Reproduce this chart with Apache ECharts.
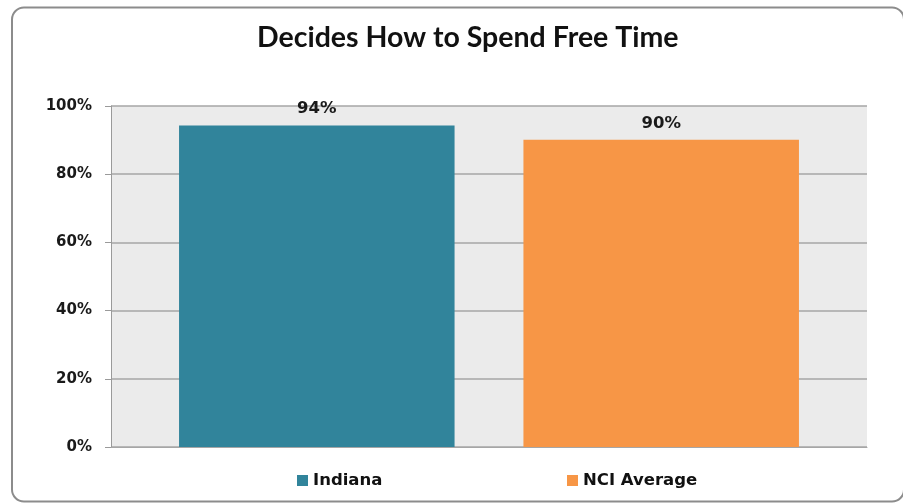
<!DOCTYPE html>
<html>
<head>
<meta charset="utf-8">
<script src="https://cdn.jsdelivr.net/npm/echarts@6/dist/echarts.min.js"></script>
<style>html,body{margin:0;padding:0;background:#fff;}#c{width:903px;height:504px;}</style>
</head>
<body>
<div id="c"></div>
<script>
const title = 'Decides How to Spend Free Time';
const categories = [''];
const seriesNames = ['Indiana', 'NCI Average'];
const indianaValues = [94.3];
const nciValues = [90.1];
const valueLabels = ['94%', '90%'];
const yTicks = [0, 20, 40, 60, 80, 100];

const chart = echarts.init(document.getElementById('c'), null, {renderer: 'canvas'});
const labelFont = {fontFamily: 'DejaVu Sans', fontWeight: 'bold', fontSize: 16.5, color: '#1a1a1a'};
const legendText = {fontFamily: 'DejaVu Sans', fontWeight: 'bold', fontSize: 16.5, color: '#111'};
chart.setOption({
  animation: false,
  backgroundColor: '#fff',
  title: {
    text: title, left: 252, top: 18,
    textStyle: {fontFamily: 'Lato', fontWeight: 'bold', fontSize: 28.5, color: '#111'}
  },
  graphic: [{
    type: 'rect', z: -10,
    shape: {x: 12, y: 7.5, width: 892, height: 494, r: 12},
    style: {fill: 'none', stroke: '#8c8c8c', lineWidth: 2}
  }],
  legend: [
    {data: [seriesNames[0]], left: 292, top: 467, itemWidth: 11, itemHeight: 11, icon: 'rect', textStyle: legendText},
    {data: [seriesNames[1]], left: 562, top: 467, itemWidth: 11, itemHeight: 11, icon: 'rect', textStyle: legendText}
  ],
  grid: {left: 111, right: 36, top: 106, bottom: 57, show: true, backgroundColor: '#ebebeb', borderWidth: 0},
  xAxis: {
    type: 'category', data: categories,
    axisLine: {show: true, lineStyle: {color: '#a6a6a6'}},
    axisTick: {show: false}, axisLabel: {show: false}
  },
  yAxis: {
    type: 'value', min: 0, max: 100, interval: 20,
    axisLine: {show: true, lineStyle: {color: '#9a9a9a', width: 1}},
    axisTick: {show: true, inside: false, length: 6, lineStyle: {color: '#9a9a9a'}},
    splitLine: {lineStyle: {color: '#a6a6a6', width: 1.5}},
    axisLabel: {margin: 19, formatter: v => v + '%', fontFamily: 'DejaVu Sans', fontWeight: 'bold', fontSize: 15, color: '#1a1a1a'}
  },
  series: [
    {name: seriesNames[0], type: 'bar', data: indianaValues, itemStyle: {color: '#31849b'},
     barGap: '25%', barCategoryGap: '18%',
     label: {show: true, position: 'top', distance: 8, formatter: () => valueLabels[0], ...labelFont}},
    {name: seriesNames[1], type: 'bar', data: nciValues, itemStyle: {color: '#f79646'},
     barGap: '25%', barCategoryGap: '18%',
     label: {show: true, position: 'top', distance: 8, formatter: () => valueLabels[1], ...labelFont}}
  ]
});
</script>
</body>
</html>
